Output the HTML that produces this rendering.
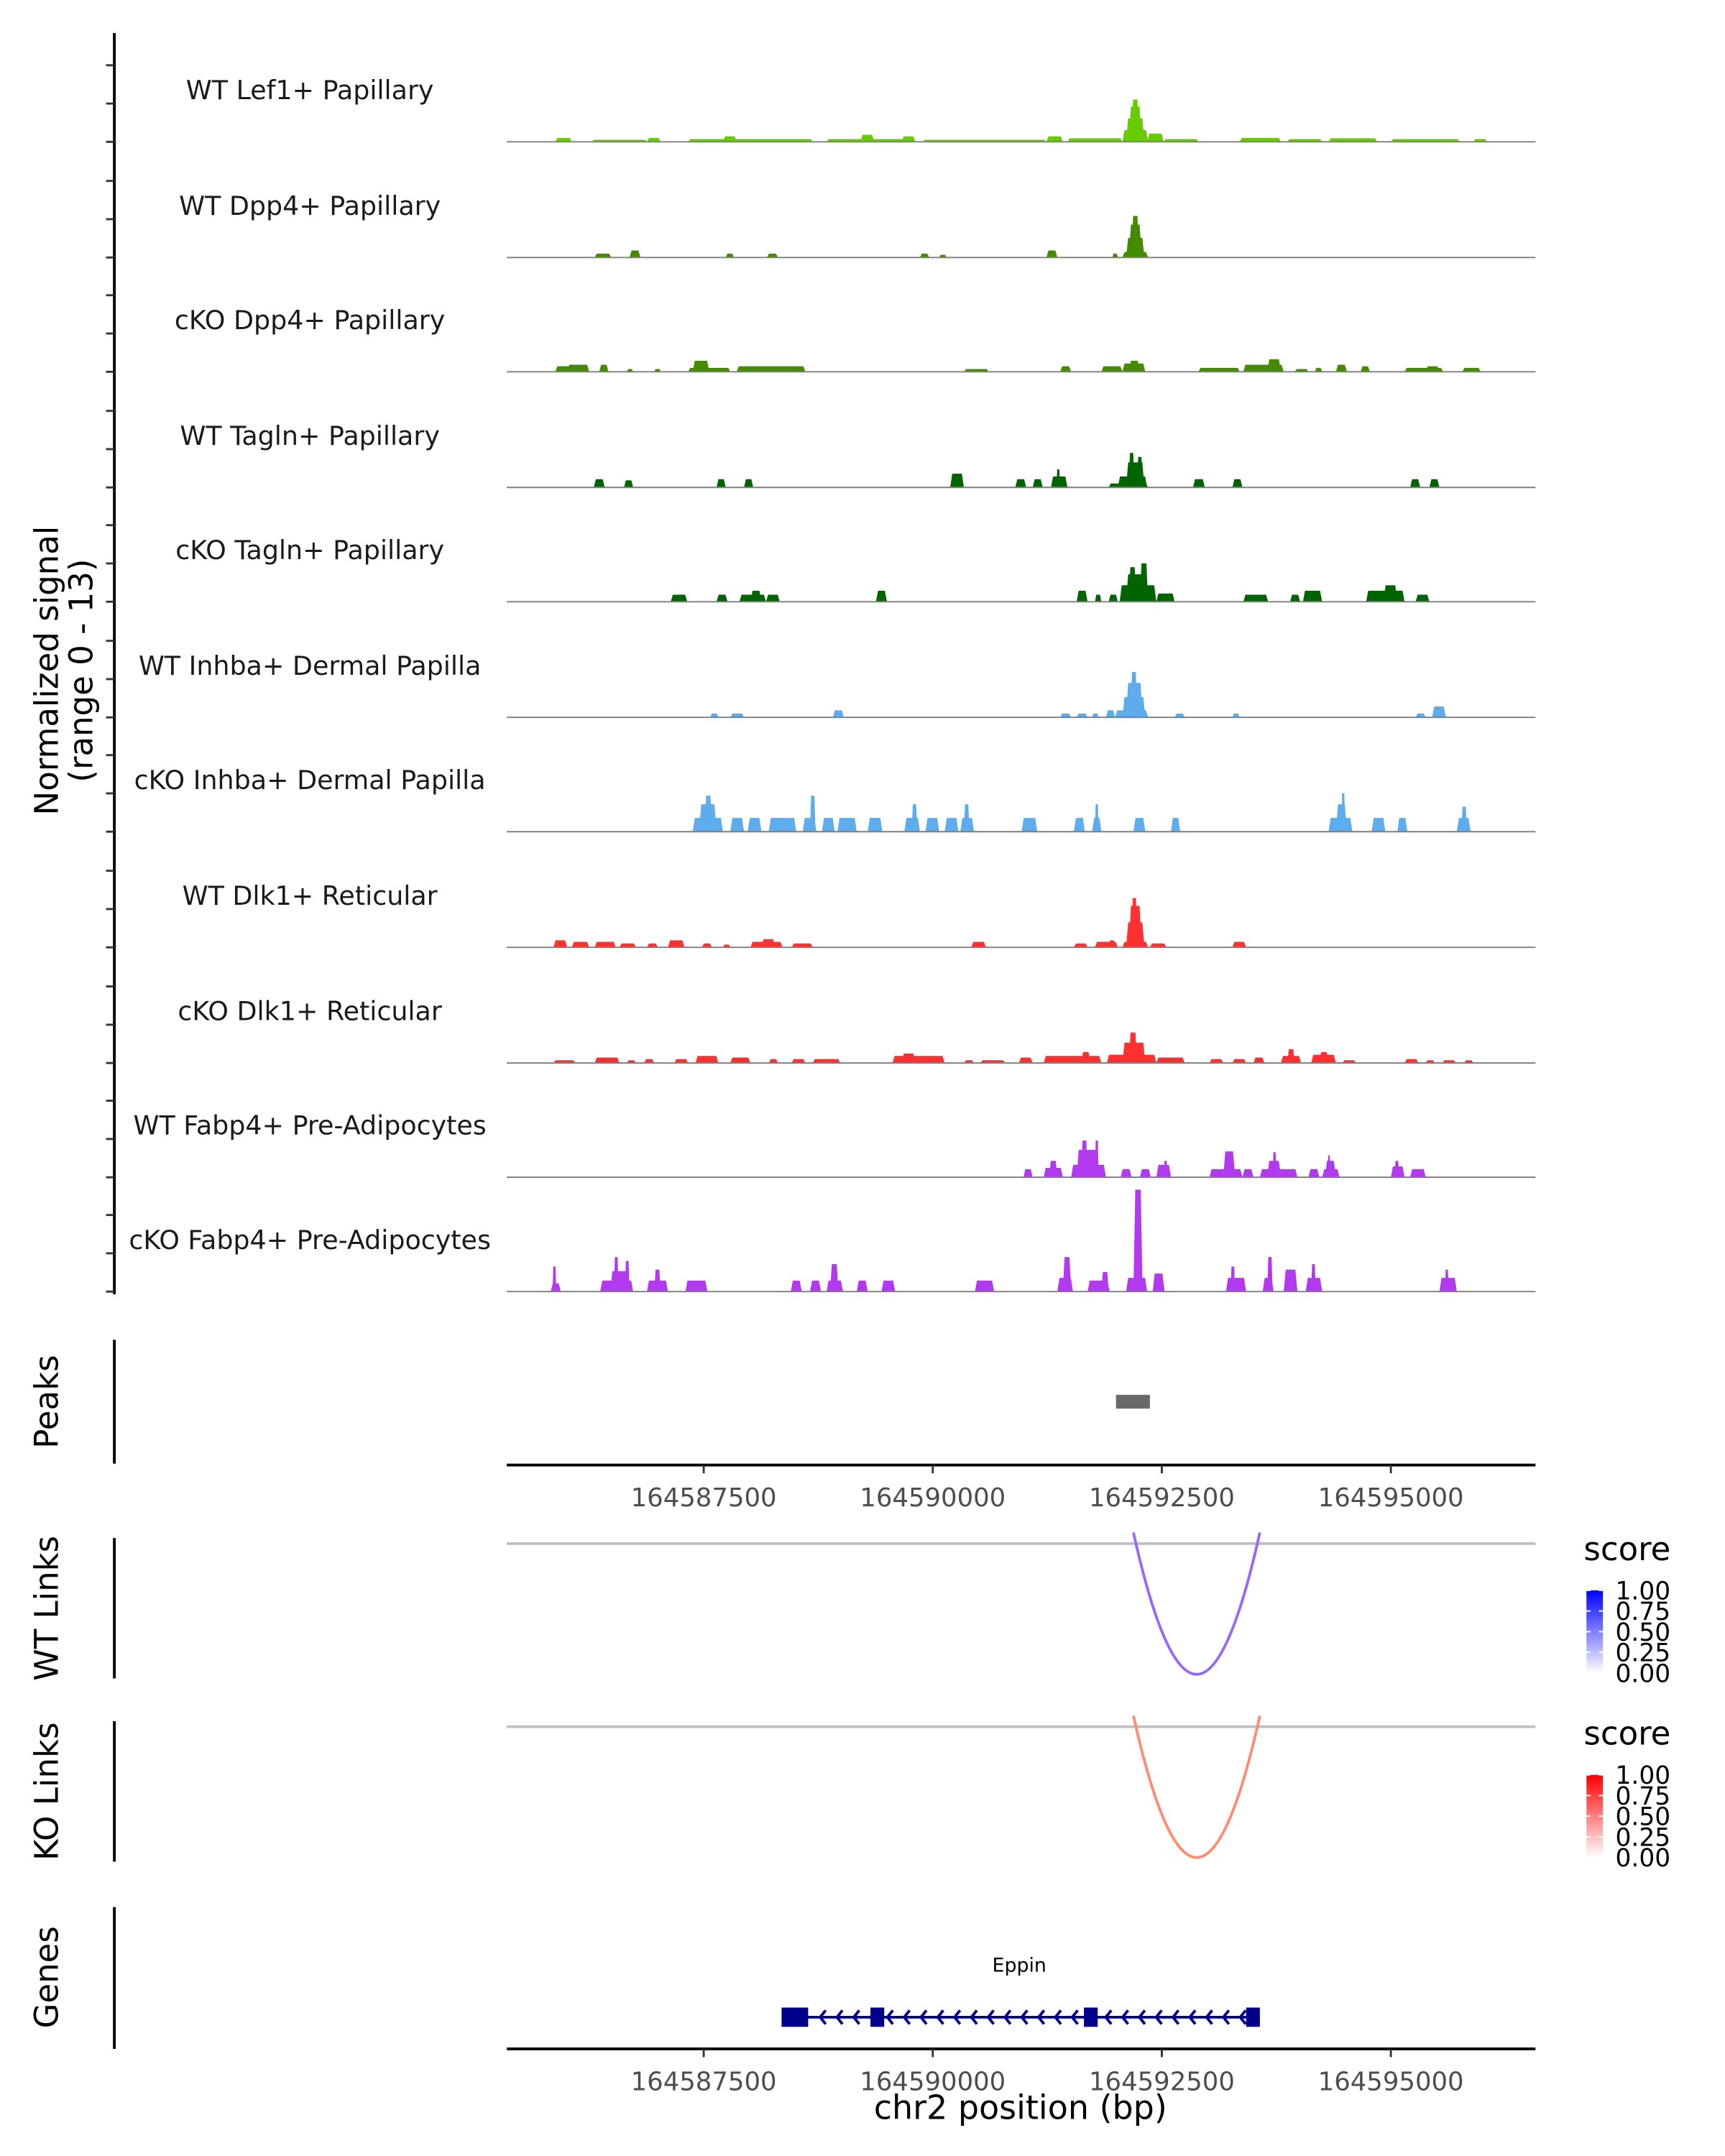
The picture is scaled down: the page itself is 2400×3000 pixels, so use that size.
<!DOCTYPE html>
<html><head><meta charset="utf-8">
<style>
html,body{margin:0;padding:0;background:#fff;}
svg{display:block;font-family:"DejaVu Sans","Liberation Sans",sans-serif;}
</style></head>
<body>
<svg id="chart" width="2400" height="3000" viewBox="0 0 1252.6 1565.8" xmlns="http://www.w3.org/2000/svg"></svg>
<script>
// ---- data ----
const trackNames = ["WT Lef1+ Papillary","WT Dpp4+ Papillary","cKO Dpp4+ Papillary","WT Tagln+ Papillary","cKO Tagln+ Papillary","WT Inhba+ Dermal Papilla","cKO Inhba+ Dermal Papilla","WT Dlk1+ Reticular","cKO Dlk1+ Reticular","WT Fabp4+ Pre-Adipocytes","cKO Fabp4+ Pre-Adipocytes"];
const trackColors = ["#66CC00","#458B00","#458B00","#006400","#006400","#5CACEE","#5CACEE","#FF3030","#FF3030","#B23AEE","#B23AEE"];
const xTicks = [164587500,164590000,164592500,164595000];
const xTickLabels = ["164587500","164590000","164592500","164595000"];
const yRange = [0,13];
const sigLef1 = [[164585880,164586060,0.5],[164586280,164586880,0.26],[164586880,164587030,0.5],[164587330,164588690,0.35],[164587710,164587860,0.7],[164588840,164589740,0.35],[164589210,164589360,0.9],[164589660,164589810,0.7],[164589890,164591240,0.26],[164591240,164591420,0.7],[164591470,164592070,0.45],[164592070,164592350,1.5],[164592110,164592310,3],[164592140,164592280,4.5],[164592170,164592250,5.4],[164592340,164592520,1.05],[164592520,164592900,0.35],[164593350,164593800,0.5],[164593870,164594250,0.35],[164594320,164594850,0.45],[164595000,164595750,0.35],[164595900,164596050,0.35]];
const sigDpp4WT = [[164586310,164586490,0.5],[164586690,164586810,0.9],[164587740,164587830,0.5],[164588190,164588310,0.5],[164589860,164589960,0.5],[164590070,164590150,0.35],[164591240,164591360,0.9],[164591960,164592020,0.5],[164592070,164592350,0.7],[164592110,164592310,2.5],[164592140,164592280,4.2],[164592170,164592250,5.3]];
const sigDpp4KO = [[164585880,164586250,0.7],[164586010,164586250,0.9],[164586360,164586460,0.9],[164586660,164586730,0.35],[164586960,164587030,0.35],[164587330,164587790,0.5],[164587380,164587560,1.4],[164587860,164588610,0.7],[164590340,164590610,0.35],[164591390,164591510,0.7],[164591840,164592070,0.7],[164592070,164592320,1.05],[164592140,164592260,1.4],[164592900,164593350,0.5],[164593390,164593830,0.9],[164593650,164593800,1.6],[164593950,164594100,0.35],[164594170,164594250,0.5],[164594400,164594520,0.9],[164594670,164594770,0.7],[164595150,164595570,0.5],[164595380,164595530,0.7],[164595780,164595980,0.5]];
const sigTaglnWT = [[164586300,164586420,1.05],[164586630,164586730,0.9],[164587640,164587740,1.05],[164587940,164588040,1.05],[164590190,164590340,1.75],[164590900,164591020,1.05],[164591090,164591200,1.05],[164591290,164591470,1.4],[164591350,164591390,2.3],[164591920,164592350,0.5],[164592020,164592340,1.4],[164592110,164592310,3.2],[164592140,164592200,4.4],[164592230,164592290,3.9],[164592840,164592970,1.05],[164593270,164593380,1.05],[164595210,164595320,1.05],[164595420,164595530,1.05]];
const sigTaglnKO = [[164587140,164587320,0.9],[164587640,164587760,0.9],[164587890,164588180,0.9],[164588010,164588130,1.4],[164588180,164588330,0.9],[164589380,164589500,1.4],[164591570,164591690,1.4],[164591770,164591840,0.9],[164591920,164592020,0.9],[164592040,164592440,2.1],[164592110,164592350,3.5],[164592140,164592220,4.4],[164592260,164592350,4.9],[164592440,164592640,1.05],[164593390,164593660,0.9],[164593900,164594010,0.9],[164594040,164594250,1.4],[164594730,164595150,1.4],[164594920,164595070,2.1],[164595270,164595420,0.9]];
const sigInhbaWT = [[164587570,164587660,0.5],[164587790,164587940,0.5],[164588910,164589030,0.9],[164591390,164591510,0.5],[164591570,164591690,0.5],[164591740,164591810,0.5],[164591890,164591990,0.9],[164591990,164592350,0.9],[164592070,164592320,2.6],[164592110,164592290,4.4],[164592160,164592230,5.8],[164592640,164592750,0.5],[164593270,164593350,0.5],[164595270,164595380,0.5],[164595450,164595600,1.4]];
const sigInhbaKO = [[164587380,164587710,1.75],[164587450,164587640,3.5],[164587510,164587590,4.6],[164587790,164587940,1.75],[164587980,164588130,1.75],[164588210,164588510,1.75],[164588580,164588730,1.75],[164588660,164588720,4.6],[164588790,164588930,1.75],[164588960,164589170,1.75],[164589290,164589450,1.75],[164589690,164589860,1.75],[164589770,164589830,3.5],[164589920,164590070,1.75],[164590130,164590280,1.75],[164590300,164590450,1.75],[164590340,164590400,3.5],[164590970,164591140,1.75],[164591540,164591660,1.75],[164591740,164591840,1.75],[164591770,164591810,3.5],[164592190,164592320,1.75],[164592600,164592700,1.75],[164594320,164594580,1.75],[164594400,164594520,3.5],[164594460,164594500,4.9],[164594790,164594940,1.75],[164595070,164595180,1.75],[164595720,164595870,1.75],[164595770,164595830,3.2]];
const sigDlk1WT = [[164585860,164586010,0.9],[164586060,164586250,0.7],[164586310,164586540,0.7],[164586580,164586760,0.5],[164586880,164587000,0.5],[164587110,164587290,0.9],[164587480,164587590,0.5],[164587710,164587790,0.35],[164588010,164588360,0.7],[164588130,164588280,1.05],[164588460,164588690,0.5],[164590420,164590580,0.7],[164591540,164591690,0.5],[164591770,164592020,0.7],[164591920,164591990,0.9],[164592070,164592350,0.7],[164592110,164592310,3.2],[164592140,164592280,5.3],[164592170,164592230,6.3],[164592370,164592550,0.5],[164593270,164593420,0.7]];
const sigDlk1KO = [[164585860,164586100,0.35],[164586310,164586580,0.7],[164586660,164586760,0.35],[164586850,164586960,0.5],[164587180,164587330,0.5],[164587410,164587660,0.9],[164587790,164588010,0.7],[164588210,164588310,0.5],[164588460,164588610,0.5],[164588690,164588990,0.5],[164589560,164590130,0.9],[164589660,164589810,1.2],[164590340,164590450,0.35],[164590520,164590790,0.35],[164590940,164591090,0.7],[164591210,164591840,0.9],[164591620,164591720,1.4],[164591900,164592440,1.05],[164592070,164592320,2.6],[164592140,164592230,3.9],[164592440,164592750,0.7],[164593020,164593170,0.5],[164593270,164593420,0.5],[164593500,164593620,0.7],[164593800,164594020,0.9],[164593870,164593950,1.75],[164594130,164594400,1.05],[164594220,164594320,1.4],[164594470,164594620,0.35],[164595150,164595300,0.5],[164595380,164595480,0.35],[164595560,164595710,0.35],[164595800,164595900,0.35]];
const sigFabp4WT = [[164590990,164591090,1.05],[164591210,164591420,1.2],[164591270,164591360,2.1],[164591510,164591890,1.6],[164591570,164591800,3.5],[164591620,164591690,4.7],[164591770,164591810,4.7],[164592050,164592170,1.05],[164592260,164592380,1.05],[164592440,164592600,1.6],[164592520,164592560,2.1],[164593020,164593380,1.05],[164593170,164593300,3.3],[164593380,164593500,1.05],[164593570,164593980,1.05],[164593650,164593800,2.1],[164593710,164593750,3.2],[164594100,164594220,1.05],[164594250,164594440,1.05],[164594280,164594400,2.1],[164594310,164594340,2.8],[164595000,164595150,1.4],[164595040,164595090,2.1],[164595210,164595380,1.05]];
const sigFabp4KO = [[164585830,164585940,1.05],[164585850,164585890,3.2],[164586370,164586730,1.4],[164586480,164586690,2.6],[164586520,164586570,4.4],[164586640,164586690,3.9],[164586880,164587110,1.4],[164586960,164587030,2.8],[164587300,164587540,1.4],[164588450,164588570,1.4],[164588660,164588780,1.4],[164588840,164589020,1.4],[164588880,164588970,3.5],[164589170,164589290,1.4],[164589440,164589590,1.4],[164590460,164590670,1.4],[164591360,164591530,1.75],[164591420,164591510,4.4],[164591690,164591930,1.4],[164591840,164591920,2.5],[164592110,164592340,1.75],[164592190,164592290,13],[164592400,164592530,2.3],[164593200,164593420,1.75],[164593250,164593300,3.2],[164593600,164593720,1.75],[164593650,164593710,4.4],[164593830,164593980,2.8],[164594070,164594250,1.75],[164594130,164594180,3.5],[164595530,164595720,1.75],[164595590,164595630,2.8]];
const trackSignals = [sigLef1,sigDpp4WT,sigDpp4KO,sigTaglnWT,sigTaglnKO,sigInhbaWT,sigInhbaKO,sigDlk1WT,sigDlk1KO,sigFabp4WT,sigFabp4KO];
const peakRegions = [[164592000,164592370]];
const wtLinks = [[164592190,164593570,0.6]];
const koLinks = [[164592190,164593570,0.45]];
const geneName = "Eppin";
const geneSpan = [164588350,164593570];
const geneExons = [[164588350,164588640],[164589320,164589470],[164591650,164591800],[164593420,164593570]];
const legendTicks = ["1.00","0.75","0.50","0.25","0.00"];

// ---- geometry ----
const NS="http://www.w3.org/2000/svg";
const svg=document.getElementById('chart');
const X0=368, X1=1115;
const xScale = bp => 511 + (bp-164587500)*(166.33/2500);
const baselines=[103,187,270,354,437,521,604,688,772,855,938];
const pxPerUnit = 74/ (yRange[1]-yRange[0]);
const yVal = (b,v) => b - v*pxPerUnit;
function mk(tag,attrs,parent){const e=document.createElementNS(NS,tag);for(const k in attrs)e.setAttribute(k,attrs[k]);(parent||svg).appendChild(e);return e;}
function txt(s,attrs,parent){const e=mk('text',attrs,parent);e.textContent=s;return e;}

// y axis for signal
let g=mk('g',{});


mk('line',{x1:83,y1:24,x2:83,y2:940,stroke:'#000','stroke-width':2},g);
baselines.forEach(b=>{for(let k=0;k<3;k++){const y=b-k*27.8;mk('line',{x1:77,y1:y,x2:83,y2:y,stroke:'#333','stroke-width':1.5},g);}});
txt('Normalized signal',{x:0,y:0,'font-size':23.5,'text-anchor':'middle',fill:'#000',transform:'translate(42,487) rotate(-90)'},g);
txt('(range 0 - 13)',{x:0,y:0,'font-size':23.5,'text-anchor':'middle',fill:'#000',transform:'translate(67,487) rotate(-90)'},g);

// tracks
trackSignals.forEach((sig,i)=>{
  const b=baselines[i];
  const tg=mk('g',{});
  
  
  const t=txt(trackNames[i],{x:225,y:b-31,'font-size':19,'text-anchor':'middle',fill:'#1a1a1a'},tg);
  
  
  sig.forEach(([s,e,v])=>{
    const xs=xScale(s), xe=xScale(e), r=Math.min((xe-xs)*0.2,1.5), y=yVal(b,v);
    const p=mk('polygon',{points:`${xs},${b} ${xs+r},${y} ${xe-r},${y} ${xe},${b}`,fill:trackColors[i]},tg);
    
    
  });
  mk('line',{x1:X0,y1:b,x2:X1,y2:b,stroke:'#7f7f7f','stroke-width':1},tg);
});

// peaks panel
g=mk('g',{});


mk('line',{x1:83,y1:973,x2:83,y2:1063,stroke:'#000','stroke-width':2},g);
txt('Peaks',{x:0,y:0,'font-size':23.5,'text-anchor':'middle',transform:'translate(42,1018) rotate(-90)'},g);
peakRegions.forEach(([s,e])=>{const r=mk('rect',{x:xScale(s),y:1013,width:xScale(e)-xScale(s),height:10,fill:'#696969'},g);});

function xAxis(y,name){
  const ag=mk('g',{});
  
  
  mk('line',{x1:X0,y1:y,x2:X1,y2:y,stroke:'#000','stroke-width':2},ag);
  xTicks.forEach((t,k)=>{const x=xScale(t);mk('line',{x1:x,y1:y,x2:x,y2:y+6,stroke:'#333','stroke-width':1.5},ag);txt(xTickLabels[k],{x:x,y:y+30,'font-size':18.5,'text-anchor':'middle',fill:'#4d4d4d'},ag);});
}
xAxis(1064,'peaks-x-axis');

// links
function linkPanel(top,label,links,c0,colorFn,legendY,name){
  const lg=mk('g',{});
  
  
  mk('line',{x1:83,y1:top-4,x2:83,y2:top+98,stroke:'#000','stroke-width':2},lg);
  txt(label,{x:0,y:0,'font-size':23.5,'text-anchor':'middle',transform:`translate(42,${top+47}) rotate(-90)`},lg);
  mk('line',{x1:X0,y1:top,x2:X1,y2:top,stroke:'#bfbfbf','stroke-width':2},lg);
  links.forEach(([s,e,sc])=>{
    const x1=xScale(s),x2=xScale(e),d=95;
    const p=mk('path',{d:`M${x1},${top-8} Q${(x1+x2)/2},${top+2*d+8} ${x2},${top-8}`,fill:'none',stroke:colorFn(sc),'stroke-width':2},lg);
    
    
  });
  const gid='grad'+name;
  const defs=mk('defs',{},lg);
  const gr=mk('linearGradient',{id:gid,x1:0,y1:0,x2:0,y2:1},defs);
  mk('stop',{offset:'0',['stop-color']:c0},gr);
  mk('stop',{offset:'1',['stop-color']:'#ffffff'},gr);
  const leg=mk('g',{},lg);
  
  
  txt('score',{x:1150,y:legendY,'font-size':23.5,fill:'#000'},leg);
  mk('rect',{x:1152,y:legendY+22,width:12,height:60,fill:`url(#${gid})`},leg);
  legendTicks.forEach((t,k)=>{const y=legendY+22+k*15;mk('line',{x1:1152,y1:y,x2:1155,y2:y,stroke:'#fff'},leg);mk('line',{x1:1161,y1:y,x2:1164,y2:y,stroke:'#fff'},leg);txt(t,{x:1173,y:y+6.5,'font-size':18,fill:'#000'},leg);});
}
linkPanel(1121,'WT Links',wtLinks,'#0000ff',sc=>'#9966FF',1133,'wt-links-panel');
linkPanel(1254,'KO Links',koLinks,'#ff0000',sc=>'#FF8C70',1267,'ko-links-panel');

// genes
g=mk('g',{});


mk('line',{x1:83,y1:1385,x2:83,y2:1488,stroke:'#000','stroke-width':2},g);
txt('Genes',{x:0,y:0,'font-size':23.5,'text-anchor':'middle',transform:'translate(42,1436) rotate(-90)'},g);
const gx1=xScale(geneSpan[0]),gx2=xScale(geneSpan[1]);
txt(geneName,{x:(gx1+gx2)/2-1,y:1432,'font-size':14,'text-anchor':'middle',fill:'#000'},g);
mk('line',{x1:gx1,y1:1465,x2:gx2,y2:1465,stroke:'#00008B','stroke-width':2},g);
for(let x=gx1+28;x<gx2-8;x+=12.2){
  mk('polyline',{points:`${x+4},${1460} ${x},${1465} ${x+4},${1470}`,fill:'none',stroke:'#00008B','stroke-width':2},g);
}
geneExons.forEach(([s,e])=>{const r=mk('rect',{x:xScale(s),y:1458,width:xScale(e)-xScale(s),height:14,fill:'#00008B'},g);});
xAxis(1488,'genes-x-axis');
const xt=txt('chr2 position (bp)',{x:741,y:1539,'font-size':24,'text-anchor':'middle',fill:'#000'});


</script>
</body></html>
